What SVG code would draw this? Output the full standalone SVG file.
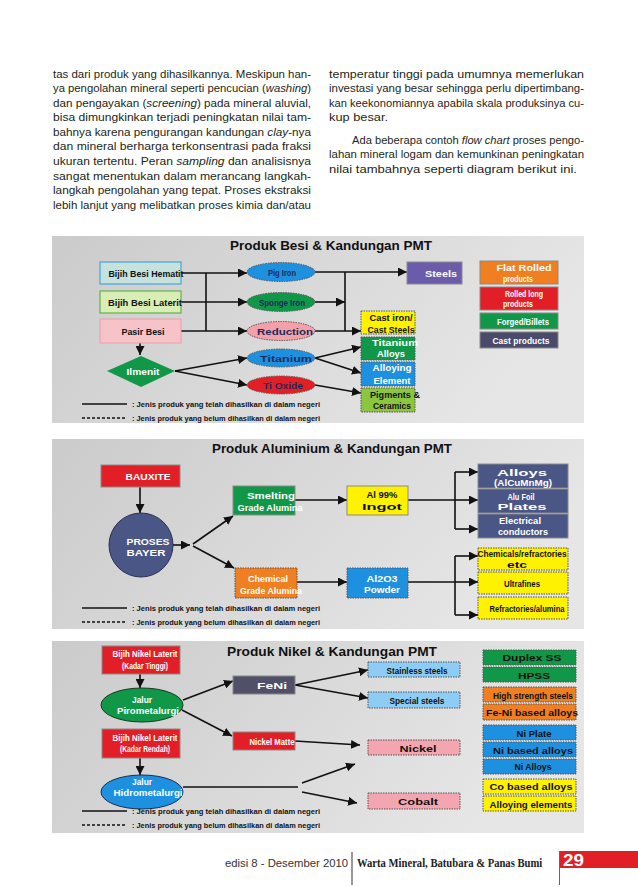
<svg xmlns="http://www.w3.org/2000/svg" width="638" height="887" viewBox="0 0 638 887">
<defs>
<linearGradient id="bg" x1="0" y1="0" x2="1" y2="0.3">
<stop offset="0" stop-color="#cbcbcb"/>
<stop offset="1" stop-color="#e6e6e6"/>
</linearGradient>
<marker id="ah" viewBox="0 0 10 10" refX="10" refY="5" markerWidth="9" markerHeight="9" markerUnits="userSpaceOnUse" orient="auto">
<path d="M0,0 L10,5 L0,10 z" fill="#111"/>
</marker>
<style>
.p{font-family:"Liberation Sans",Arial,sans-serif;font-size:11.5px;fill:#231f20}
.lb{font-family:"Liberation Sans",Arial,sans-serif;font-weight:bold;font-size:9.5px;text-anchor:middle;dominant-baseline:central}
.w{fill:#fff}
.k{fill:#111}
.nv{fill:#1a2a5a}
.tt{font-family:"Liberation Sans",Arial,sans-serif;font-weight:bold;font-size:13px;fill:#111;dominant-baseline:central}
.lg{font-family:"Liberation Sans",Arial,sans-serif;font-weight:bold;font-size:8px;fill:#111;dominant-baseline:central}
.c line,.c path{stroke:#111;stroke-width:1.6;fill:none}
.c .a{marker-end:url(#ah)}
.ds{stroke-dasharray:3,2}
.bd{stroke:#8a8a8a;stroke-width:1}
.dt{stroke:#555;stroke-width:1;stroke-dasharray:1.5,1}
</style>
</defs>
<rect width="638" height="887" fill="#fff"/>

<!-- Body text left -->
<g id="text-left">
<text class="p" x="53" y="77.5" textLength="258" lengthAdjust="spacingAndGlyphs">tas dari produk yang dihasilkannya.  Meskipun han-</text>
<text class="p" x="53" y="92.1" textLength="258" lengthAdjust="spacingAndGlyphs">ya pengolahan mineral seperti pencucian (<tspan font-style="italic">washing</tspan>)</text>
<text class="p" x="53" y="106.7" textLength="258" lengthAdjust="spacingAndGlyphs">dan pengayakan (<tspan font-style="italic">screening</tspan>) pada mineral aluvial,</text>
<text class="p" x="53" y="121.2" textLength="258" lengthAdjust="spacingAndGlyphs">bisa dimungkinkan terjadi peningkatan nilai tam-</text>
<text class="p" x="53" y="135.8" textLength="258" lengthAdjust="spacingAndGlyphs">bahnya karena pengurangan kandungan <tspan font-style="italic">clay</tspan>-nya</text>
<text class="p" x="53" y="150.4" textLength="258" lengthAdjust="spacingAndGlyphs">dan mineral berharga terkonsentrasi pada fraksi</text>
<text class="p" x="53" y="165" textLength="258" lengthAdjust="spacingAndGlyphs">ukuran tertentu.  Peran <tspan font-style="italic">sampling</tspan> dan analisisnya</text>
<text class="p" x="53" y="179.6" textLength="258" lengthAdjust="spacingAndGlyphs">sangat menentukan dalam merancang langkah-</text>
<text class="p" x="53" y="194.2" textLength="258" lengthAdjust="spacingAndGlyphs">langkah pengolahan yang tepat.  Proses ekstraksi</text>
<text class="p" x="53" y="208.7" textLength="258" lengthAdjust="spacingAndGlyphs">lebih lanjut yang melibatkan proses kimia dan/atau</text>
</g>

<!-- Body text right -->
<g id="text-right">
<text class="p" x="329" y="77.5" textLength="255" lengthAdjust="spacingAndGlyphs">temperatur tinggi pada umumnya memerlukan</text>
<text class="p" x="329" y="92.1" textLength="255" lengthAdjust="spacingAndGlyphs">investasi yang besar sehingga perlu dipertimbang-</text>
<text class="p" x="329" y="106.7" textLength="255" lengthAdjust="spacingAndGlyphs">kan keekonomiannya apabila skala produksinya cu-</text>
<text class="p" x="329" y="121.2" textLength="59" lengthAdjust="spacingAndGlyphs">kup besar.</text>
<text class="p" x="352" y="143.5" textLength="232" lengthAdjust="spacingAndGlyphs">Ada beberapa contoh <tspan font-style="italic">flow chart</tspan> proses pengo-</text>
<text class="p" x="329" y="158.1" textLength="255" lengthAdjust="spacingAndGlyphs">lahan mineral logam dan kemunkinan peningkatan</text>
<text class="p" x="329" y="172.7" textLength="248" lengthAdjust="spacingAndGlyphs">nilai tambahnya seperti diagram berikut ini.</text>
</g>

<!-- ================= PANEL 1 ================= -->
<rect x="52" y="236" width="532" height="187" fill="url(#bg)"/>
<text class="tt" x="230" y="245" textLength="202" lengthAdjust="spacingAndGlyphs">Produk Besi &amp; Kandungan PMT</text>

<g class="c" id="p1-connectors">
<line class="a" x1="181" y1="273" x2="247" y2="273"/>
<line x1="206" y1="273" x2="206" y2="331"/>
<line class="a" x1="181" y1="302" x2="247" y2="302"/>
<line class="a" x1="181" y1="331" x2="247" y2="331"/>
<line class="a" x1="140" y1="343" x2="140" y2="355"/>
<line class="a" x1="175" y1="371" x2="247" y2="358"/>
<line class="a" x1="175" y1="371" x2="247" y2="385"/>
<line class="a" x1="315" y1="272" x2="407" y2="272"/>
<line x1="345" y1="272" x2="345" y2="331"/>
<line class="a" x1="315" y1="302" x2="345" y2="302"/>
<line class="a" x1="315" y1="331" x2="361" y2="331"/>
<line class="a" x1="315" y1="358" x2="361" y2="347"/>
<line class="a" x1="315" y1="358" x2="361" y2="373"/>
<line class="a" x1="315" y1="385" x2="361" y2="393"/>
<line x1="82" y1="404" x2="127" y2="404"/>
<line class="ds" x1="82" y1="418" x2="127" y2="418"/>
</g>

<g id="p1-hematit"><rect x="100" y="262" width="81" height="22" fill="#c5e2df" stroke="#4da3d4" stroke-width="1.2"/><text class="lb k" x="146" y="273" textLength="75" lengthAdjust="spacingAndGlyphs">Bijih Besi Hematit</text></g>
<g id="p1-laterit"><rect x="100" y="291" width="81" height="22" fill="#d9eeb5" stroke="#5fb24a" stroke-width="1.2"/><text class="lb k" x="145" y="302" textLength="74" lengthAdjust="spacingAndGlyphs">Bijih Besi Laterit</text></g>
<g id="p1-pasir"><rect x="100" y="319" width="81" height="24" fill="#f6c3c8" stroke="#e8a0a8" stroke-width="1"/><text class="lb k" x="143" y="331" textLength="43" lengthAdjust="spacingAndGlyphs">Pasir Besi</text></g>
<g id="p1-ilmenit"><polygon points="141,356 175,371 141,387 107,371" fill="#109848"/><text class="lb w" x="143" y="371" textLength="33" lengthAdjust="spacingAndGlyphs">Ilmenit</text></g>

<g id="p1-pigiron"><ellipse cx="281" cy="272" rx="34" ry="9.5" fill="#1e90e0" class="dt"/><text class="lb nv" x="282" y="272" textLength="28" lengthAdjust="spacingAndGlyphs">Pig Iron</text></g>
<g id="p1-sponge"><ellipse cx="281" cy="302" rx="34" ry="9.5" fill="#109848" class="dt"/><text class="lb nv" x="282" y="302" textLength="46" lengthAdjust="spacingAndGlyphs">Sponge Iron</text></g>
<g id="p1-reduction"><ellipse cx="281" cy="331" rx="34" ry="9.5" fill="#f4a0a8" class="dt"/><text class="lb nv" x="285" y="331" textLength="56" lengthAdjust="spacingAndGlyphs">Reduction</text></g>
<g id="p1-titanium"><ellipse cx="281" cy="358" rx="34" ry="9" fill="#1e90e0" class="dt"/><text class="lb nv" x="286" y="358" textLength="52" lengthAdjust="spacingAndGlyphs">Titanium</text></g>
<g id="p1-tioxide"><ellipse cx="281" cy="385" rx="34" ry="9" fill="#e21f26" class="dt"/><text class="lb nv" x="283" y="385" textLength="40" lengthAdjust="spacingAndGlyphs">Ti Oxide</text></g>

<g id="p1-steels"><rect x="407" y="262" width="55" height="22" fill="#6a5caa" class="bd"/><text class="lb w" x="441" y="273" textLength="32" lengthAdjust="spacingAndGlyphs">Steels</text></g>
<g id="p1-cast"><rect x="361" y="311" width="54" height="23" fill="#fff200" class="dt"/><text class="lb k" x="391" y="317" textLength="43" lengthAdjust="spacingAndGlyphs">Cast iron/</text><text class="lb k" x="391" y="329" textLength="47" lengthAdjust="spacingAndGlyphs">Cast Steels</text></g>
<g id="p1-tialloys"><rect x="361" y="337" width="54" height="23" fill="#109848" class="dt"/><text class="lb w" x="395" y="342" textLength="46" lengthAdjust="spacingAndGlyphs">Titanium</text><text class="lb w" x="391" y="353" textLength="28" lengthAdjust="spacingAndGlyphs">Alloys</text></g>
<g id="p1-alloying"><rect x="361" y="362" width="54" height="24" fill="#1e90e0" class="dt"/><text class="lb w" x="392" y="367" textLength="39" lengthAdjust="spacingAndGlyphs">Alloying</text><text class="lb w" x="392" y="380" textLength="37" lengthAdjust="spacingAndGlyphs">Element</text></g>
<g id="p1-pigments"><rect x="361" y="388" width="54" height="24" fill="#8cc63f" class="dt"/><text class="lb k" x="395" y="394" textLength="50" lengthAdjust="spacingAndGlyphs">Pigments &amp;</text><text class="lb k" x="392" y="405" textLength="38" lengthAdjust="spacingAndGlyphs">Ceramics</text></g>

<g id="p1-legend-flat"><rect x="480" y="261" width="78" height="23" fill="#f07f22" class="bd"/><text class="lb w" x="524" y="267" textLength="55" lengthAdjust="spacingAndGlyphs">Flat Rolled</text><text class="lb w" x="518" y="278" textLength="30" lengthAdjust="spacingAndGlyphs">products</text></g>
<g id="p1-legend-long"><rect x="480" y="287" width="78" height="23" fill="#e21f26" class="bd"/><text class="lb w" x="524" y="293" textLength="38" lengthAdjust="spacingAndGlyphs">Rolled long</text><text class="lb w" x="518" y="303" textLength="30" lengthAdjust="spacingAndGlyphs">products</text></g>
<g id="p1-legend-forged"><rect x="480" y="313" width="78" height="16" fill="#109848" class="bd"/><text class="lb w" x="523" y="321" textLength="52" lengthAdjust="spacingAndGlyphs">Forged/Billets</text></g>
<g id="p1-legend-cast"><rect x="480" y="332" width="78" height="16" fill="#4a4a6a" class="bd"/><text class="lb w" x="521" y="340" textLength="57" lengthAdjust="spacingAndGlyphs">Cast products</text></g>

<text class="lg" x="132" y="404" textLength="188" lengthAdjust="spacingAndGlyphs">: Jenis produk yang telah dihasilkan di dalam negeri</text>
<text class="lg" x="132" y="418" textLength="188" lengthAdjust="spacingAndGlyphs">: Jenis produk yang belum dihasilkan di dalam negeri</text>

<!-- ================= PANEL 2 ================= -->
<rect x="52" y="439" width="532" height="190" fill="url(#bg)"/>
<text class="tt" x="212" y="448" textLength="240" lengthAdjust="spacingAndGlyphs">Produk Aluminium &amp; Kandungan PMT</text>

<g class="c" id="p2-connectors">
<line class="a" x1="140" y1="487" x2="140" y2="513"/>
<line class="a" x1="173" y1="545" x2="190" y2="545"/>
<line class="a" x1="193" y1="544" x2="233" y2="516"/>
<line class="a" x1="193" y1="546" x2="234" y2="568"/>
<line class="a" x1="295" y1="500" x2="347" y2="500"/>
<path d="M408,500 H455 M455,472 V529"/>
<line class="a" x1="455" y1="472" x2="478" y2="472"/>
<line class="a" x1="455" y1="500" x2="478" y2="500"/>
<line class="a" x1="455" y1="529" x2="478" y2="529"/>
<line class="a" x1="297" y1="582" x2="347" y2="582"/>
<path d="M408,582 H455 M455,556 V615"/>
<line class="a" x1="455" y1="556" x2="478" y2="556"/>
<line class="a" x1="455" y1="582" x2="478" y2="582"/>
<line class="a" x1="455" y1="615" x2="478" y2="615"/>
<line x1="82" y1="608" x2="127" y2="608"/>
<line class="ds" x1="82" y1="622" x2="127" y2="622"/>
</g>

<g id="p2-bauxite"><rect x="101" y="465" width="79" height="22" fill="#e21f26" class="bd"/><text class="lb w" x="148" y="476" textLength="45" lengthAdjust="spacingAndGlyphs">BAUXITE</text></g>
<g id="p2-bayer"><ellipse cx="141" cy="545" rx="32" ry="32" fill="#4a5686" stroke="#2a3050" stroke-width="1"/><text class="lb w" x="148" y="541" textLength="43" lengthAdjust="spacingAndGlyphs">PROSES</text><text class="lb w" x="146" y="552" textLength="39" lengthAdjust="spacingAndGlyphs">BAYER</text></g>
<g id="p2-smelting"><rect x="233" y="486" width="62" height="29" fill="#109848" class="bd"/><text class="lb w" x="271" y="495" textLength="48" lengthAdjust="spacingAndGlyphs">Smelting</text><text class="lb w" x="270" y="507" textLength="65" lengthAdjust="spacingAndGlyphs">Grade Alumina</text></g>
<g id="p2-chemical"><rect x="235" y="568" width="62" height="30" fill="#f07f22" class="dt"/><text class="lb w" x="268" y="578" textLength="40" lengthAdjust="spacingAndGlyphs">Chemical</text><text class="lb w" x="271" y="590" textLength="62" lengthAdjust="spacingAndGlyphs">Grade Alumina</text></g>
<g id="p2-ingot"><rect x="347" y="486" width="61" height="29" fill="#fff200" class="bd"/><text class="lb k" x="382" y="494" textLength="31" lengthAdjust="spacingAndGlyphs">Al 99%</text><text class="lb k" x="382" y="506" textLength="40" lengthAdjust="spacingAndGlyphs">Ingot</text></g>
<g id="p2-powder"><rect x="347" y="568" width="61" height="30" fill="#1e90e0" class="dt"/><text class="lb w" x="382" y="578" textLength="31" lengthAdjust="spacingAndGlyphs">Al2O3</text><text class="lb w" x="382" y="589" textLength="36" lengthAdjust="spacingAndGlyphs">Powder</text></g>

<g id="p2-alloys"><rect x="478" y="464" width="90" height="24" fill="#4a5686" class="bd"/><text class="lb w" x="522" y="472" textLength="50" lengthAdjust="spacingAndGlyphs">Alloys</text><text class="lb w" x="523" y="482" textLength="58" lengthAdjust="spacingAndGlyphs">(AlCuMnMg)</text></g>
<g id="p2-foil"><rect x="478" y="489" width="90" height="24" fill="#4a5686" class="bd"/><text class="lb w" x="521" y="496" textLength="27" lengthAdjust="spacingAndGlyphs">Alu Foil</text><text class="lb w" x="522" y="506" textLength="49" lengthAdjust="spacingAndGlyphs">Plates</text></g>
<g id="p2-electrical"><rect x="478" y="514" width="90" height="24" fill="#4a5686" class="bd"/><text class="lb w" x="520" y="520" textLength="42" lengthAdjust="spacingAndGlyphs">Electrical</text><text class="lb w" x="523" y="531" textLength="50" lengthAdjust="spacingAndGlyphs">conductors</text></g>
<g id="p2-chemicals"><rect x="478" y="548" width="90" height="22" fill="#fff200" class="dt"/><text class="lb k" x="522" y="553" textLength="89" lengthAdjust="spacingAndGlyphs">Chemicals/refractories</text><text class="lb k" x="517" y="564" textLength="20" lengthAdjust="spacingAndGlyphs">etc</text></g>
<g id="p2-ultrafines"><rect x="478" y="572" width="90" height="22" fill="#fff200" class="dt"/><text class="lb k" x="522" y="583" textLength="36" lengthAdjust="spacingAndGlyphs">Ultrafines</text></g>
<g id="p2-refractories"><rect x="478" y="597" width="90" height="22" fill="#fff200" class="dt"/><text class="lb k" x="527" y="608" textLength="75" lengthAdjust="spacingAndGlyphs">Refractories/alumina</text></g>

<text class="lg" x="132" y="608" textLength="188" lengthAdjust="spacingAndGlyphs">: Jenis produk yang telah dihasilkan di dalam negeri</text>
<text class="lg" x="132" y="622" textLength="188" lengthAdjust="spacingAndGlyphs">: Jenis produk yang belum dihasilkan di dalam negeri</text>

<!-- ================= PANEL 3 ================= -->
<rect x="52" y="641" width="532" height="192" fill="url(#bg)"/>
<text class="tt" x="227" y="651" textLength="210" lengthAdjust="spacingAndGlyphs">Produk Nikel &amp; Kandungan PMT</text>

<g class="c" id="p3-connectors">
<line class="a" x1="140" y1="674" x2="140" y2="688"/>
<line class="a" x1="183" y1="700" x2="233" y2="681"/>
<line class="a" x1="182" y1="710" x2="232" y2="736"/>
<line class="a" x1="140" y1="758" x2="140" y2="775"/>
<line x1="183" y1="787" x2="298" y2="787"/>
<line class="a" x1="302" y1="783" x2="355" y2="764"/>
<line class="a" x1="302" y1="792" x2="357" y2="803"/>
<line class="a" x1="295" y1="685" x2="368" y2="670"/>
<line class="a" x1="295" y1="685" x2="368" y2="698"/>
<line class="a" x1="295" y1="741" x2="360" y2="745"/>
<line x1="82" y1="811" x2="127" y2="811"/>
<line class="ds" x1="82" y1="825" x2="127" y2="825"/>
</g>

<g id="p3-saprolit"><rect x="102" y="646" width="78" height="28" fill="#e21f26" class="bd"/><text class="lb w" x="145" y="653" textLength="65" lengthAdjust="spacingAndGlyphs">Bijih Nikel Laterit</text><text class="lb w" x="145" y="665" textLength="46" lengthAdjust="spacingAndGlyphs">(Kadar Tinggi)</text></g>
<g id="p3-piro"><ellipse cx="142" cy="705" rx="41" ry="17" fill="#109848" stroke="#1a3a20" stroke-width="1"/><text class="lb w" x="142" y="699" textLength="20" lengthAdjust="spacingAndGlyphs">Jalur</text><text class="lb w" x="148" y="710" textLength="62" lengthAdjust="spacingAndGlyphs">Pirometalurgi</text></g>
<g id="p3-limonit"><rect x="102" y="729" width="78" height="29" fill="#e21f26" class="bd"/><text class="lb w" x="145" y="737" textLength="65" lengthAdjust="spacingAndGlyphs">Bijih Nikel Laterit</text><text class="lb w" x="145" y="748" textLength="50" lengthAdjust="spacingAndGlyphs">(Kadar Rendah)</text></g>
<g id="p3-hidro"><ellipse cx="142" cy="792" rx="41" ry="17" fill="#1e90e0" stroke="#1a3050" stroke-width="1"/><text class="lb w" x="142" y="781" textLength="20" lengthAdjust="spacingAndGlyphs">Jalur</text><text class="lb w" x="148" y="792" textLength="69" lengthAdjust="spacingAndGlyphs">Hidrometalurgi</text></g>
<g id="p3-feni"><rect x="233" y="676" width="62" height="18" fill="#505068" class="bd"/><text class="lb w" x="272" y="685" textLength="30" lengthAdjust="spacingAndGlyphs">FeNi</text></g>
<g id="p3-matte"><rect x="233" y="732" width="62" height="18" fill="#e21f26" class="bd"/><text class="lb w" x="272" y="741" textLength="45" lengthAdjust="spacingAndGlyphs">Nickel Matte</text></g>

<g id="p3-stainless"><rect x="368" y="662" width="92" height="15" fill="#8dcdf5" class="dt"/><text class="lb k" x="417" y="670" textLength="61" lengthAdjust="spacingAndGlyphs">Stainless steels</text></g>
<g id="p3-special"><rect x="368" y="692" width="92" height="16" fill="#8dcdf5" class="dt"/><text class="lb k" x="417" y="700" textLength="55" lengthAdjust="spacingAndGlyphs">Special steels</text></g>
<g id="p3-nickel"><rect x="368" y="740" width="92" height="15" fill="#f4a6b0" class="dt"/><text class="lb k" x="418" y="748" textLength="37" lengthAdjust="spacingAndGlyphs">Nickel</text></g>
<g id="p3-cobalt"><rect x="368" y="793" width="92" height="16" fill="#f4a6b0" class="dt"/><text class="lb k" x="418" y="801" textLength="40" lengthAdjust="spacingAndGlyphs">Cobalt</text></g>

<g id="p3-duplex"><rect x="483" y="650" width="93" height="15" fill="#109848" class="dt"/><text class="lb k" x="532" y="657" textLength="59" lengthAdjust="spacingAndGlyphs">Duplex SS</text></g>
<g id="p3-hpss"><rect x="483" y="667" width="93" height="15" fill="#109848" class="dt"/><text class="lb k" x="534" y="675" textLength="32" lengthAdjust="spacingAndGlyphs">HPSS</text></g>
<g id="p3-high"><rect x="483" y="687" width="93" height="15" fill="#f07f22" class="dt"/><text class="lb k" x="533" y="695" textLength="80" lengthAdjust="spacingAndGlyphs">High strength steels</text></g>
<g id="p3-feni-alloys"><rect x="483" y="704" width="93" height="16" fill="#f07f22" class="dt"/><text class="lb k" x="532" y="712" textLength="92" lengthAdjust="spacingAndGlyphs">Fe-Ni based alloys</text></g>
<g id="p3-niplate"><rect x="483" y="725" width="93" height="15" fill="#1e90e0" class="dt"/><text class="lb k" x="534" y="733" textLength="35" lengthAdjust="spacingAndGlyphs">Ni Plate</text></g>
<g id="p3-nibased"><rect x="483" y="742" width="93" height="15" fill="#1e90e0" class="dt"/><text class="lb k" x="533" y="750" textLength="80" lengthAdjust="spacingAndGlyphs">Ni based alloys</text></g>
<g id="p3-nialloys"><rect x="483" y="759" width="93" height="15" fill="#1e90e0" class="dt"/><text class="lb k" x="533" y="766" textLength="37" lengthAdjust="spacingAndGlyphs">Ni Alloys</text></g>
<g id="p3-cobased"><rect x="483" y="779" width="93" height="15" fill="#fff200" class="dt"/><text class="lb k" x="531" y="786" textLength="83" lengthAdjust="spacingAndGlyphs">Co based alloys</text></g>
<g id="p3-alloying"><rect x="483" y="796" width="93" height="15" fill="#fff200" class="dt"/><text class="lb k" x="531" y="804" textLength="83" lengthAdjust="spacingAndGlyphs">Alloying elements</text></g>

<text class="lg" x="132" y="811" textLength="188" lengthAdjust="spacingAndGlyphs">: Jenis produk yang telah dihasilkan di dalam negeri</text>
<text class="lg" x="132" y="825" textLength="188" lengthAdjust="spacingAndGlyphs">: Jenis produk yang belum dihasilkan di dalam negeri</text>

<!-- Footer -->
<g id="footer">
<text x="225" y="867" font-family="'Liberation Sans',Arial,sans-serif" font-size="11px" fill="#333" textLength="123" lengthAdjust="spacingAndGlyphs">edisi 8 - Desember 2010</text>
<line x1="352" y1="852" x2="352" y2="885" stroke="#555" stroke-width="1.2"/>
<text transform="translate(357,867) scale(0.85,1)" x="0" y="0" font-family="'Liberation Serif','Times New Roman',serif" font-weight="bold" font-size="12.5px" fill="#222">Warta Mineral, Batubara &amp; Panas Bumi</text>
<rect x="559" y="851" width="79" height="17" fill="#e21f26"/>
<line x1="559.5" y1="851" x2="559.5" y2="885" stroke="#666" stroke-width="1"/>
<text x="563" y="865.5" font-family="'Liberation Sans',Arial,sans-serif" font-weight="bold" font-size="17px" fill="#fff" textLength="21" lengthAdjust="spacingAndGlyphs">29</text>
</g>
</svg>
